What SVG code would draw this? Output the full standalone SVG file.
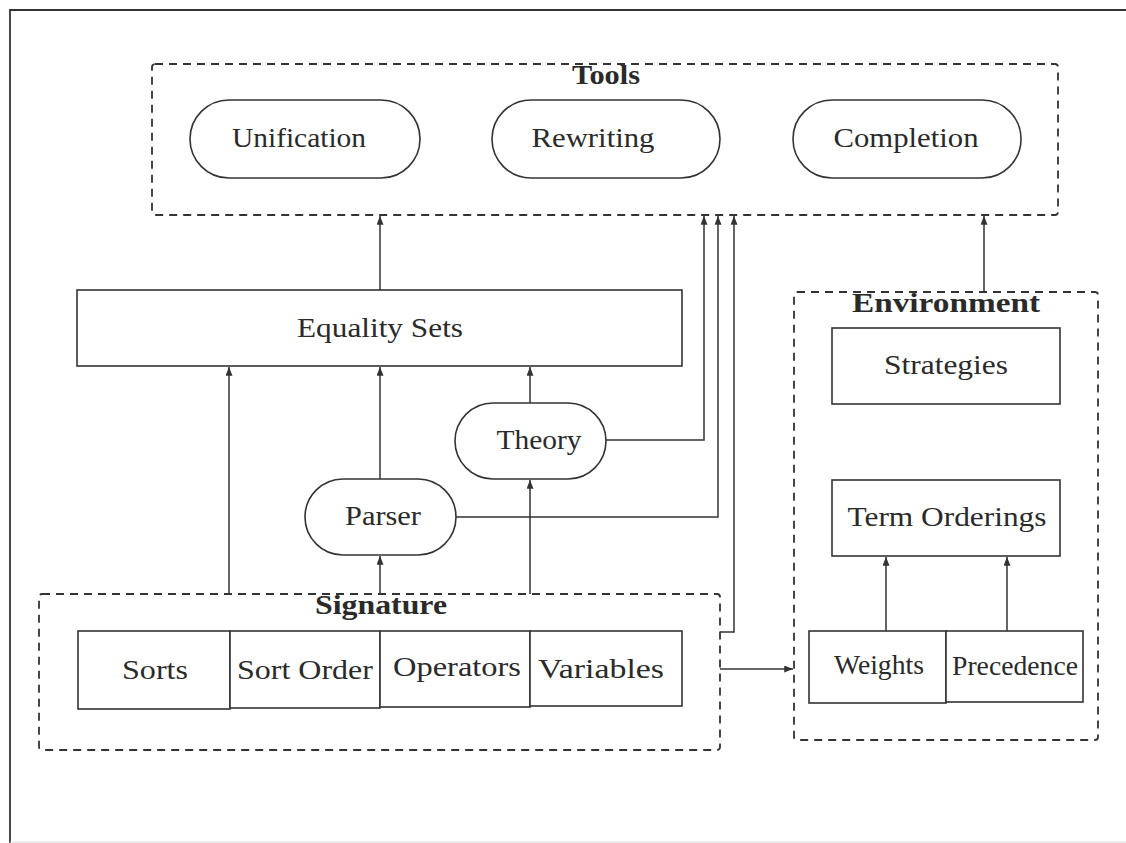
<svg xmlns="http://www.w3.org/2000/svg" width="1126" height="843" viewBox="0 0 1126 843">
<defs>
<marker id="ah" viewBox="0 0 10 8" refX="10" refY="4" markerWidth="10" markerHeight="7" markerUnits="userSpaceOnUse" orient="auto">
<path d="M0,0 L10,4 L0,8 z" fill="#333"/>
</marker>
</defs>
<style>
text{font-family:"Liberation Serif","Times New Roman",serif;font-size:28px;fill:#2a2a2a;text-anchor:middle}
.b{font-weight:bold}
.box{fill:#fff;stroke:#333;stroke-width:1.6}
.dash{fill:none;stroke:#333;stroke-width:1.8;stroke-dasharray:8,6}
.c{fill:none;stroke:#333;stroke-width:1.5}
.frame{fill:none;stroke:#333;stroke-width:1.8}
</style>
<rect width="1126" height="843" fill="#fff"/>
<path class="frame" d="M10,843 L10,10 L1126,10"/>
<line x1="10" y1="842" x2="1126" y2="842" stroke="#ddd" stroke-width="1"/>

<g id="tools">
<rect class="dash" x="152" y="64" width="906" height="151" rx="3"/>
<text class="b" x="606" y="84" textLength="68" lengthAdjust="spacingAndGlyphs">Tools</text>
</g>
<g id="unification">
<rect class="box" x="190" y="100" width="230" height="78" rx="39"/>
<text x="299" y="147" textLength="134" lengthAdjust="spacingAndGlyphs">Unification</text>
</g>
<g id="rewriting">
<rect class="box" x="492" y="100" width="228" height="78" rx="39"/>
<text x="593" y="147" textLength="123" lengthAdjust="spacingAndGlyphs">Rewriting</text>
</g>
<g id="completion">
<rect class="box" x="793" y="100" width="228" height="78" rx="39"/>
<text x="906" y="147" textLength="145" lengthAdjust="spacingAndGlyphs">Completion</text>
</g>

<g id="equality-sets">
<rect class="box" x="77" y="290" width="605" height="76"/>
<text x="380" y="337" textLength="166" lengthAdjust="spacingAndGlyphs">Equality Sets</text>
</g>

<g id="theory">
<rect class="box" x="455" y="403" width="151" height="76" rx="38"/>
<text x="539" y="449" textLength="85" lengthAdjust="spacingAndGlyphs">Theory</text>
</g>
<g id="parser">
<rect class="box" x="305" y="479" width="151" height="76" rx="38"/>
<text x="383" y="525" textLength="76" lengthAdjust="spacingAndGlyphs">Parser</text>
</g>

<g id="signature">
<rect class="dash" x="39" y="594" width="681" height="156" rx="3"/>
<text class="b" x="381" y="614" textLength="132" lengthAdjust="spacingAndGlyphs">Signature</text>
</g>
<g id="sorts">
<rect class="box" x="78" y="631" width="152" height="78"/>
<text x="155" y="679" textLength="66" lengthAdjust="spacingAndGlyphs">Sorts</text>
</g>
<g id="sort-order">
<rect class="box" x="230" y="631" width="150" height="77"/>
<text x="305" y="679" textLength="136" lengthAdjust="spacingAndGlyphs">Sort Order</text>
</g>
<g id="operators">
<rect class="box" x="380" y="631" width="150" height="76"/>
<text x="457" y="676" textLength="128" lengthAdjust="spacingAndGlyphs">Operators</text>
</g>
<g id="variables">
<rect class="box" x="530" y="631" width="152" height="75"/>
<text x="601" y="678" textLength="126" lengthAdjust="spacingAndGlyphs">Variables</text>
</g>

<g id="environment">
<rect class="dash" x="794" y="292" width="304" height="448" rx="3"/>
<text class="b" x="946" y="312" textLength="188" lengthAdjust="spacingAndGlyphs">Environment</text>
</g>
<g id="strategies">
<rect class="box" x="832" y="328" width="228" height="76"/>
<text x="946" y="374" textLength="124" lengthAdjust="spacingAndGlyphs">Strategies</text>
</g>
<g id="term-orderings">
<rect class="box" x="832" y="480" width="228" height="76"/>
<text x="947" y="526" textLength="199" lengthAdjust="spacingAndGlyphs">Term Orderings</text>
</g>
<g id="weights">
<rect class="box" x="809" y="631" width="137" height="72"/>
<text x="879" y="674" textLength="90" lengthAdjust="spacingAndGlyphs">Weights</text>
</g>
<g id="precedence">
<rect class="box" x="946" y="631" width="137" height="71"/>
<text x="1015" y="675" textLength="126" lengthAdjust="spacingAndGlyphs">Precedence</text>
</g>

<g id="connectors">
<line class="c" x1="380" y1="290" x2="380" y2="216" marker-end="url(#ah)"/>
<line class="c" x1="984" y1="292" x2="984" y2="216" marker-end="url(#ah)"/>
<line class="c" x1="229" y1="594" x2="229" y2="367" marker-end="url(#ah)"/>
<line class="c" x1="380" y1="479" x2="380" y2="367" marker-end="url(#ah)"/>
<line class="c" x1="530" y1="403" x2="530" y2="367" marker-end="url(#ah)"/>
<line class="c" x1="380" y1="594" x2="380" y2="556" marker-end="url(#ah)"/>
<line class="c" x1="530" y1="594" x2="530" y2="480" marker-end="url(#ah)"/>
<polyline class="c" points="606,440 704,440 704,216" marker-end="url(#ah)"/>
<polyline class="c" points="456,517 718,517 718,216" marker-end="url(#ah)"/>
<polyline class="c" points="720,632 734,632 734,216" marker-end="url(#ah)"/>
<line class="c" x1="720" y1="669" x2="793" y2="669" marker-end="url(#ah)"/>
<line class="c" x1="886" y1="631" x2="886" y2="557" marker-end="url(#ah)"/>
<line class="c" x1="1007" y1="631" x2="1007" y2="557" marker-end="url(#ah)"/>
</g>
</svg>
